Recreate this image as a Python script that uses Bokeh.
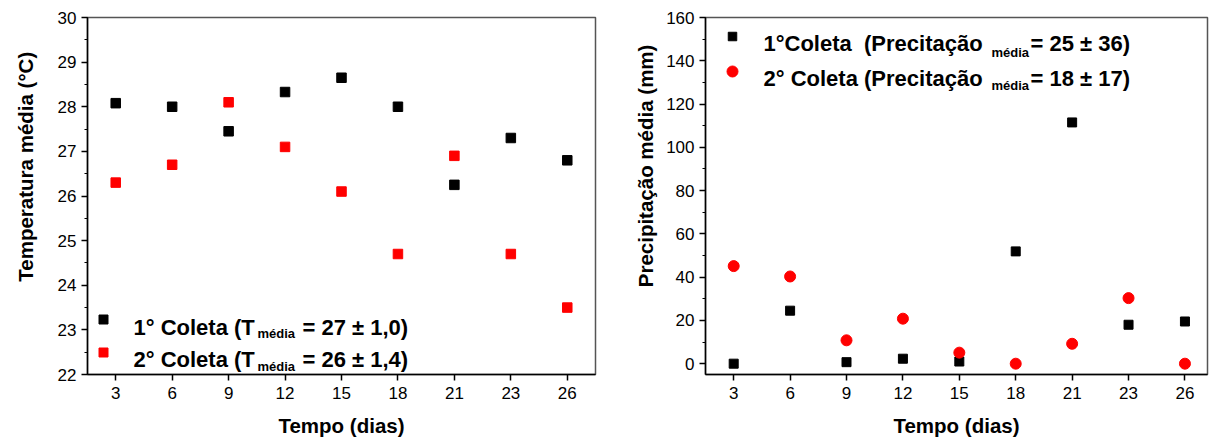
import math
from bokeh.plotting import figure
from bokeh.layouts import row
from bokeh.models import Range1d, FixedTicker, SingleIntervalTicker, Label
from bokeh.embed import file_html
from bokeh.resources import INLINE

# Sampling days (evenly spaced on the axis)
dias = ["3", "6", "9", "12", "15", "18", "21", "23", "26"]

# Mean temperature (°C)
temp_coleta1 = [28.08, 28.0, 27.45, 28.33, 28.65, 28.0, 26.25, 27.3, 26.8]
temp_coleta2 = [26.3, 26.7, 28.1, 27.1, 26.1, 24.7, 26.9, 24.7, 23.5]

# Mean precipitation (mm)
prec_coleta1 = [0.0, 24.5, 0.7, 2.3, 1.0, 51.9, 111.5, 18.0, 19.5]
prec_coleta2 = [45.1, 40.3, 10.8, 20.8, 5.1, 0.0, 9.2, 30.3, 0.0]

pos = list(range(len(dias)))
FONT = "Liberation Sans"
HEIGHT = 439


def make_fig(frame_w, border_l, border_r, x_end, y_start, y_end, y_step):
    p = figure(frame_width=frame_w, frame_height=357,
               min_border_left=border_l, min_border_right=border_r,
               min_border_top=17, min_border_bottom=65,
               x_range=Range1d(-0.5, x_end), y_range=Range1d(y_start, y_end),
               output_backend="svg", toolbar_location=None)
    p.xgrid.visible = False
    p.ygrid.visible = False
    p.outline_line_color = "#555555"
    p.outline_line_width = 1.5

    p.xaxis.ticker = FixedTicker(ticks=pos, minor_ticks=[])
    p.xaxis.major_label_overrides = {i: d for i, d in enumerate(dias)}
    p.yaxis.ticker = SingleIntervalTicker(interval=y_step, num_minor_ticks=2)

    for ax in (p.xaxis[0], p.yaxis[0]):
        ax.axis_line_color = "black"
        ax.axis_line_width = 1.5
        ax.major_tick_line_color = "black"
        ax.major_tick_line_width = 1.5
        ax.minor_tick_line_color = "black"
        ax.minor_tick_line_width = 1.2
        ax.major_tick_in = 0
        ax.major_tick_out = 6
        ax.minor_tick_in = 0
        ax.minor_tick_out = 3
        ax.major_label_text_font = FONT
        ax.major_label_text_font_size = "17px"
        ax.major_label_text_color = "black"
        ax.axis_label_text_font = FONT
        ax.axis_label_text_font_style = "bold"
        ax.axis_label_text_font_size = "20.5px"
        ax.axis_label_text_color = "black"

    p.xaxis.axis_label = "Tempo (dias)"
    p.xaxis.major_label_standoff = 6
    p.xaxis.axis_label_standoff = 12
    p.yaxis.major_label_standoff = 5
    return p


def title_strip(width, text, cx, cy):
    """Narrow blank strip carrying a vertical axis title (pixel coordinates)."""
    s = figure(width=width, height=HEIGHT, x_range=Range1d(0, width),
               y_range=Range1d(HEIGHT, 0), x_axis_type=None,
               y_axis_type=None, min_border=0, output_backend="svg",
               toolbar_location=None, outline_line_color=None)
    s.xgrid.visible = False
    s.ygrid.visible = False
    s.add_layout(Label(x=cx, y=cy, text=text, angle=math.pi / 2,
                       text_font=FONT, text_font_style="bold",
                       text_font_size="20.5px", text_color="black",
                       text_align="center", text_baseline="middle"))
    return s


def to_data(p, fx, fy):
    """Frame-relative pixel offset (from top-left) -> data coordinates."""
    xr, yr = p.x_range, p.y_range
    x = xr.start + fx / p.frame_width * (xr.end - xr.start)
    y = yr.end - fy / p.frame_height * (yr.end - yr.start)
    return x, y


def legend_row(p, fx, fy, color, marker, size, head, sub, tail,
               tx, sub_x, tail_x, base_fy, sub_fy):
    mx, my = to_data(p, fx, fy)
    p.scatter([mx], [my], marker=marker, size=size,
              fill_color=color, line_color=color)
    for text, px, py, fs in ((head, tx, base_fy, "22px"),
                             (sub, sub_x, sub_fy, "13px"),
                             (tail, tail_x, base_fy, "22px")):
        x, y = to_data(p, px, py)
        p.add_layout(Label(x=x, y=y, text=text, text_font=FONT,
                           text_font_style="bold", text_font_size=fs,
                           text_color="black", text_baseline="alphabetic",
                           text_align="left"))


# ---- Temperature panel ----
s1 = title_strip(50, "Temperatura média (°C)", 25, 183.5)
p1 = make_fig(508, 37, 20, 8.5, 22, 30, 1)
p1.scatter(pos, temp_coleta1, marker="square", size=9.5,
           fill_color="black", line_color="black")
p1.scatter(pos, temp_coleta2, marker="square", size=9.5,
           fill_color="#ff0000", line_color="#ff0000")
legend_row(p1, 16, 302, "black", "square", 9, "1° Coleta (T", "média",
           "= 27 ± 1,0)", 46, 170, 215, 309.5, 316.3)
legend_row(p1, 16, 335, "#ff0000", "square", 9, "2° Coleta (T", "média",
           "= 26 ± 1,4)", 46, 170, 215, 342.3, 348.7)

# ---- Precipitation panel ----
s2 = title_strip(45, "Precipitação média (mm)", 30, 182.5)
p2 = make_fig(502, 45, 9, 8.4, -5, 160, 20)
p2.scatter(pos, prec_coleta1, marker="square", size=9,
           fill_color="black", line_color="black")
p2.scatter(pos, prec_coleta2, marker="circle", size=11,
           fill_color="#ff0000", line_color="#ff0000")
legend_row(p2, 27, 19, "black", "square", 8.5, "1°Coleta\u00a0 (Precitação",
           "média", "= 25 ± 36)", 58, 286, 325, 26.3, 34.7)
legend_row(p2, 27, 54, "#ff0000", "circle", 11, "2° Coleta (Precitação",
           "média", "= 18 ± 17)", 58, 286, 325, 61.3, 68)

layout = row(s1, p1, s2, p2, spacing=0)
open("out.html", "w").write(file_html(layout, INLINE))
